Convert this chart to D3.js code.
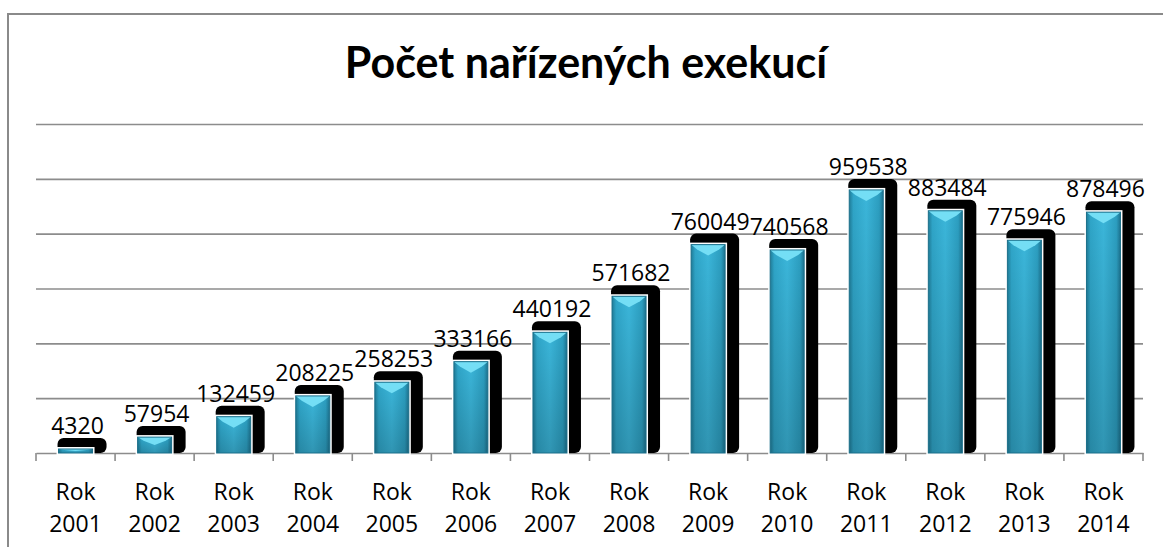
<!DOCTYPE html>
<html>
<head>
<meta charset="utf-8">
<script src="https://cdn.jsdelivr.net/npm/d3@7"></script>
<style>
  body { margin: 0; background: #fff; }
  svg { display: block; }
</style>
</head>
<body>
<svg id="chart" width="1163" height="547"></svg>
<script>
const years = ["2001", "2002", "2003", "2004", "2005", "2006", "2007", "2008", "2009", "2010", "2011", "2012", "2013", "2014"];
const counts = [4320, 57954, 132459, 208225, 258253, 333166, 440192, 571682, 760049, 740568, 959538, 883484, 775946, 878496];
const gridValues = [200000, 400000, 600000, 800000, 1000000, 1200000];
const title = "Počet nařízených exekucí";

const svg = d3.select("#chart");
const width = 1163, height = 547;
const plot = { left: 36, right: 1143, top: 124, bottom: 453 };
const labelFont = "'Open Sans', 'DejaVu Sans', sans-serif";

const defs = svg.append("defs");
const grad = defs.append("linearGradient").attr("id", "barGrad")
  .attr("x1", "0%").attr("x2", "100%").attr("y1", "0%").attr("y2", "0%");
grad.append("stop").attr("offset", "0%").attr("stop-color", "#1f7d99");
grad.append("stop").attr("offset", "12%").attr("stop-color", "#2fa5c8");
grad.append("stop").attr("offset", "50%").attr("stop-color", "#3bb6da");
grad.append("stop").attr("offset", "88%").attr("stop-color", "#2c9ec0");
grad.append("stop").attr("offset", "100%").attr("stop-color", "#1d7390");

const shade = defs.append("linearGradient").attr("id", "barShade")
  .attr("x1", "0%").attr("x2", "0%").attr("y1", "0%").attr("y2", "100%");
shade.append("stop").attr("offset", "0%").attr("stop-color", "#000").attr("stop-opacity", 0);
shade.append("stop").attr("offset", "100%").attr("stop-color", "#000").attr("stop-opacity", 0.18);

// frame
svg.append("rect")
  .attr("x", 8).attr("y", 14)
  .attr("width", width + 20).attr("height", height + 20)
  .attr("fill", "none").attr("stroke", "#8a8a8a").attr("stroke-width", 2);

svg.append("text")
  .attr("x", 586).attr("y", 78)
  .attr("text-anchor", "middle")
  .style("font-family", "Lato, 'Open Sans', sans-serif")
  .style("font-weight", "bold")
  .style("font-size", "43px")
  .attr("fill", "#000")
  .text(title);

const x = d3.scaleBand().domain(years)
  .range([plot.left, plot.right])
  .paddingInner(0.57).paddingOuter(0.285);
const xCat = d3.scaleBand().domain(years).range([plot.left, plot.right]).padding(0);
const y = d3.scaleLinear().domain([0, 1200000]).range([plot.bottom, plot.top]);

// gridlines
svg.append("g")
  .attr("transform", `translate(${plot.left},0)`)
  .call(d3.axisLeft(y).tickValues(gridValues).tickSize(-(plot.right - plot.left)).tickFormat(""))
  .call(g => g.select(".domain").remove())
  .call(g => g.selectAll("line").attr("stroke", "#8c8c8c").attr("stroke-width", 1.6));

// category axis
const xAxis = svg.append("g")
  .attr("transform", `translate(0,${plot.bottom})`)
  .call(d3.axisBottom(xCat).tickSize(0).tickFormat(""));
xAxis.select(".domain").attr("stroke", "#8c8c8c").attr("stroke-width", 1.6);
xAxis.selectAll(".tick").remove();

const boundaries = years.map(d => xCat(d)).concat([plot.right]);
xAxis.selectAll("line.bound")
  .data(boundaries)
  .enter().append("line")
  .attr("class", "bound")
  .attr("x1", d => d).attr("x2", d => d)
  .attr("y1", 0).attr("y2", 8)
  .attr("stroke", "#8c8c8c").attr("stroke-width", 1.6);

const labels = xAxis.selectAll("text.cat")
  .data(years)
  .enter().append("text")
  .attr("class", "cat")
  .attr("text-anchor", "middle")
  .style("font-family", labelFont)
  .style("font-size", "23px")
  .attr("fill", "#000");
labels.append("tspan")
  .attr("x", d => xCat(d) + xCat.bandwidth() / 2)
  .attr("y", 47)
  .text("Rok");
labels.append("tspan")
  .attr("x", d => xCat(d) + xCat.bandwidth() / 2)
  .attr("y", 79)
  .text(d => d);

// bars
const bw = x.bandwidth();
const barTop = v => Math.min(y(v), plot.bottom - 4);
const bars = svg.append("g").selectAll("g")
  .data(years.map((d, i) => ({ year: d, value: counts[i] })))
  .enter().append("g");

// black shadow
bars.append("rect")
  .attr("x", d => x(d.year) - 1)
  .attr("y", d => barTop(d.value) - 11)
  .attr("width", bw + 15)
  .attr("height", d => plot.bottom - barTop(d.value) + 11)
  .attr("rx", 6)
  .attr("fill", "#000");

// white halo + bar body
bars.append("rect")
  .attr("x", d => x(d.year))
  .attr("y", d => barTop(d.value))
  .attr("width", bw)
  .attr("height", d => plot.bottom - barTop(d.value))
  .attr("fill", "url(#barGrad)")
  .attr("stroke", "#fff").attr("stroke-width", 4)
  .attr("paint-order", "stroke");

bars.append("rect")
  .attr("x", d => x(d.year))
  .attr("y", d => barTop(d.value))
  .attr("width", bw)
  .attr("height", d => plot.bottom - barTop(d.value))
  .attr("fill", "url(#barShade)");

// top bevel
bars.append("path")
  .attr("d", d => {
    const x0 = x(d.year), t = barTop(d.value);
    const h = Math.min(11, (plot.bottom - t) / 2);
    return `M${x0},${t}L${x0 + bw},${t}L${x0 + bw - 6},${t + h * 0.45}L${x0 + bw / 2},${t + h}L${x0 + 6},${t + h * 0.45}Z`;
  })
  .attr("fill", "#74def5");

bars.append("rect")
  .attr("x", d => x(d.year))
  .attr("y", d => barTop(d.value))
  .attr("width", bw)
  .attr("height", d => plot.bottom - barTop(d.value))
  .attr("fill", "none")
  .attr("stroke", "#1b6f8a").attr("stroke-width", 1);

// value labels
bars.append("text")
  .attr("x", d => x(d.year) + bw / 2 + 2)
  .attr("y", d => barTop(d.value) - 15)
  .attr("text-anchor", "middle")
  .style("font-family", labelFont)
  .style("font-size", "23px")
  .attr("fill", "#000")
  .text(d => d.value);
</script>
</body>
</html>
